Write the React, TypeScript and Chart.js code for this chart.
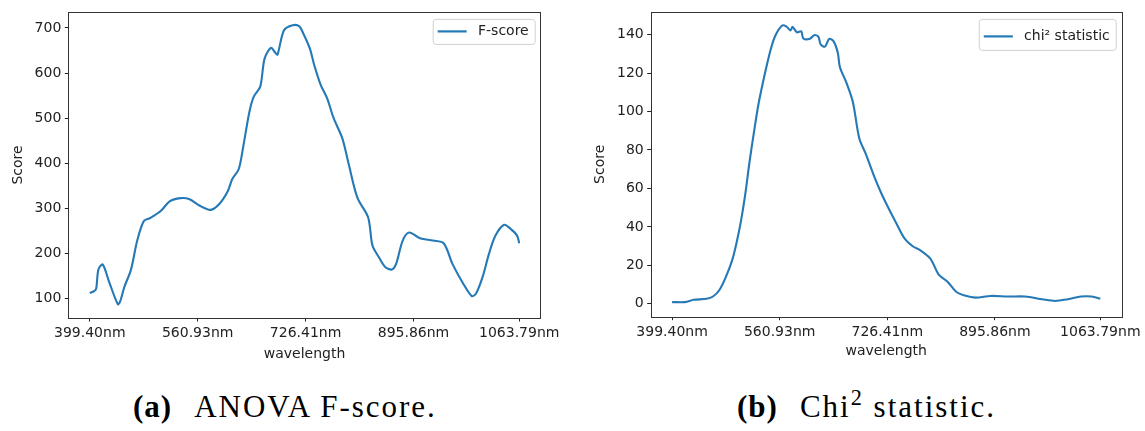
import React, { useEffect, useRef } from "react";
import { Chart, registerables } from "chart.js";

Chart.register(...registerables);

// ---- data ----
const xTickPositions = [0, 50, 100, 150, 199];
const xTickLabels = ["399.40nm", "560.93nm", "726.41nm", "895.86nm", "1063.79nm"];

const fIdx = [0, 2, 3, 4, 6, 9, 13, 14, 16, 19, 22, 25, 28, 33, 37, 42, 46, 51, 56, 60, 64, 66, 69, 71, 74, 76, 79, 81, 84, 86, 87, 90, 94, 97, 99, 102, 104, 107, 110, 113, 117, 120, 124, 129, 131, 134, 137, 140, 142, 145, 148, 153, 159, 164, 168, 173, 177, 179, 182, 185, 188, 192, 195, 198, 199];
const fScore = [113, 117, 123, 165, 176, 137, 88, 93, 126, 163, 229, 272, 279, 295, 316, 323, 321, 306, 297, 310, 339, 365, 387, 434, 515, 548, 570, 632, 656, 645, 641, 695, 706, 704, 687, 654, 618, 574, 544, 500, 456, 398, 324, 280, 218, 192, 170, 165, 178, 229, 247, 234, 229, 223, 178, 134, 106, 112, 148, 200, 240, 264, 255, 240, 223];
const fTicks = [100, 200, 300, 400, 500, 600, 700];

const cIdx = [0, 6, 10, 16, 19, 22, 25, 28, 30, 32, 34, 36, 38, 40, 42, 44, 46, 48, 51, 53, 55, 56, 58, 60, 61, 64, 66, 68, 69, 71, 73, 75, 77, 78, 81, 84, 87, 90, 94, 97, 100, 104, 108, 112, 115, 120, 124, 128, 132, 136, 141, 148, 156, 164, 172, 178, 184, 190, 195, 199];
const cScore = [0.9, 0.9, 2.1, 2.6, 3.8, 7.2, 14, 23, 32, 43, 57, 74, 89, 103, 114, 124, 133, 139.5, 144.6, 144.3, 142.2, 144, 141.2, 141.7, 138, 137.8, 139.7, 138.8, 135, 133.7, 137.8, 136.6, 130.6, 123, 115, 105, 86, 78, 66, 58, 51, 42.3, 34, 29.8, 28.1, 23.5, 15, 11.5, 6.3, 4.3, 3.2, 4.1, 3.8, 3.8, 2.4, 1.5, 2.4, 3.8, 3.8, 2.7];
const cTicks = [0, 20, 40, 60, 80, 100, 120, 140];

const FONT = "'DejaVu Sans', sans-serif";
const TEXT = "#222";
const BLUE = "#2479b6";

const framePlugin = {
  id: "frame",
  afterDraw(chart: any) {
    const { ctx, chartArea: a } = chart;
    ctx.save();
    ctx.strokeStyle = "#333";
    ctx.lineWidth = 1;
    ctx.strokeRect(Math.round(a.left) + 0.5, Math.round(a.top) + 0.5, Math.round(a.right - a.left), Math.round(a.bottom - a.top));
    ctx.restore();
  },
};

const mplLegend = {
  id: "mplLegend",
  afterDraw(chart: any, _args: any, opts: any) {
    const { ctx, chartArea: a } = chart;
    const ds = chart.data.datasets[0];
    ctx.save();
    ctx.font = `14px ${FONT}`;
    const tw = ctx.measureText(ds.label).width;
    const pad = 5, handle = 29, gap = 11.3;
    const w = pad + handle + gap + tw + pad + 1;
    const h = opts.height || 25;
    const x = a.right - 6 - w;
    const y = a.top + 7;
    ctx.beginPath();
    ctx.roundRect(x + 0.5, y + 0.5, w, h, 3);
    ctx.fillStyle = "rgba(255,255,255,0.8)";
    ctx.fill();
    ctx.strokeStyle = "#d0d0d0";
    ctx.lineWidth = 1;
    ctx.stroke();
    const cy = y + h / 2 + (opts.dy || 0);
    ctx.beginPath();
    ctx.moveTo(x + pad, cy);
    ctx.lineTo(x + pad + handle, cy);
    ctx.strokeStyle = ds.borderColor;
    ctx.lineWidth = 2.2;
    ctx.stroke();
    ctx.fillStyle = TEXT;
    ctx.textBaseline = "middle";
    ctx.fillText(ds.label, x + pad + handle + gap, cy);
    ctx.restore();
  },
};

type Cfg = {
  idx: number[];
  vals: number[];
  label: string;
  yMin: number;
  yMax: number;
  yTicks: number[];
  yWidth: number;
  xHeight: number;
  padTop: number;
  padRight: number;
  yTitlePad: number;
  xTitlePad: number;
  legendH: number;
  legendDy: number;
};

function Plot({ cfg, left }: { cfg: Cfg; left: number }) {
  const ref = useRef<HTMLCanvasElement | null>(null);
  useEffect(() => {
    if (!ref.current) return;
    const chart = new Chart(ref.current, {
      type: "line",
      data: {
        datasets: [
          {
            label: cfg.label,
            data: cfg.idx.map((x, i) => ({ x, y: cfg.vals[i] })),
            borderColor: BLUE,
            borderWidth: 2.1,
            pointRadius: 0,
            fill: false,
            tension: 0.3,
          },
        ],
      },
      options: {
        animation: false,
        responsive: false,
        layout: { padding: { left: 0, top: cfg.padTop, right: cfg.padRight, bottom: 0 } },
        plugins: {
          legend: { display: false },
          tooltip: { enabled: false },
          mplLegend: { height: cfg.legendH, dy: cfg.legendDy },
        } as any,
        scales: {
          x: {
            type: "linear",
            min: -9.95,
            max: 208.95,
            afterBuildTicks: (s: any) => {
              s.ticks = xTickPositions.map((v) => ({ value: v }));
            },
            afterFit: (s: any) => {
              s.height = cfg.xHeight;
            },
            ticks: {
              autoSkip: false,
              maxRotation: 0,
              padding: 3.5,
              color: TEXT,
              font: { family: FONT, size: 14 },
              callback: (v: any) => {
                const k = xTickPositions.indexOf(Number(v));
                return k >= 0 ? xTickLabels[k] : "";
              },
            },
            grid: { drawOnChartArea: false, drawTicks: true, tickLength: 3.5, color: "#222" },
            border: { display: false },
            title: {
              display: true,
              text: "wavelength",
              color: TEXT,
              font: { family: FONT, size: 14 },
              padding: { top: 0, bottom: cfg.xTitlePad },
            },
          },
          y: {
            type: "linear",
            min: cfg.yMin,
            max: cfg.yMax,
            afterBuildTicks: (s: any) => {
              s.ticks = cfg.yTicks.map((v) => ({ value: v }));
            },
            afterFit: (s: any) => {
              s.width = cfg.yWidth;
            },
            ticks: {
              padding: 3.5,
              color: TEXT,
              font: { family: FONT, size: 14 },
            },
            grid: { drawOnChartArea: false, drawTicks: true, tickLength: 3.5, color: "#222" },
            border: { display: false },
            title: {
              display: true,
              text: "Score",
              color: TEXT,
              font: { family: FONT, size: 14 },
              padding: { top: cfg.yTitlePad, bottom: 0 },
            },
          },
        },
      },
      plugins: [framePlugin, mplLegend],
    });
    return () => chart.destroy();
  }, []);
  return (
    <canvas
      ref={ref}
      width={565}
      height={370}
      style={{ position: "absolute", left, top: 0, width: 565, height: 370 }}
    />
  );
}

const leftCfg: Cfg = {
  idx: fIdx,
  vals: fScore,
  label: "F-score",
  yMin: 57.5,
  yMax: 735.5,
  yTicks: fTicks,
  yWidth: 68.3,
  xHeight: 52,
  padTop: 10,
  padRight: 24.3,
  yTitlePad: 9.9,
  xTitlePad: 7.6,
  legendH: 25,
  legendDy: 0,
};

const rightCfg: Cfg = {
  idx: cIdx,
  vals: cScore,
  label: "chi² statistic",
  yMin: -6.7,
  yMax: 151.8,
  yTicks: cTicks,
  yWidth: 70.7,
  xHeight: 53.3,
  padTop: 9,
  padRight: 21.7,
  yTitlePad: 12.3,
  xTitlePad: 9.9,
  legendH: 31,
  legendDy: 2,
};

const capStyle: React.CSSProperties = {
  position: "absolute",
  top: 391,
  fontFamily: "'Liberation Serif', 'Times New Roman', serif",
  fontSize: 31,
  lineHeight: "31px",
  letterSpacing: "2px",
  whiteSpace: "nowrap",
  color: "#000",
};

export default function App() {
  return (
    <div style={{ position: "absolute", left: 0, top: 0, width: 1145, height: 431, background: "#fff", overflow: "hidden" }}>
      <Plot cfg={leftCfg} left={0} />
      <Plot cfg={rightCfg} left={580} />
      <div style={{ ...capStyle, left: 133 }}>
        <b style={{ letterSpacing: "1px" }}>(a)</b>
        <span style={{ marginLeft: 22 }}>ANOVA F-score.</span>
      </div>
      <div style={{ ...capStyle, left: 737 }}>
        <b style={{ letterSpacing: "1px" }}>(b)</b>
        <span style={{ marginLeft: 22 }}>
          Chi<span style={{ fontSize: "0.72em", position: "relative", top: "-0.55em" }}>2</span> statistic.
        </span>
      </div>
    </div>
  );
}
